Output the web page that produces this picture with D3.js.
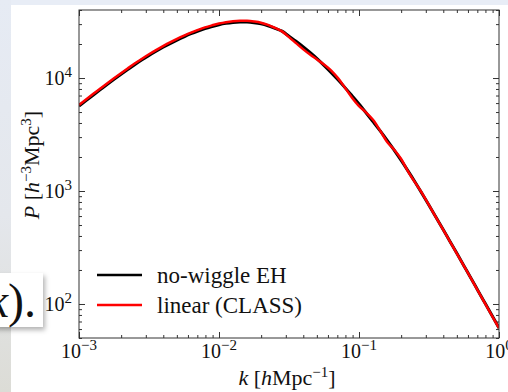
<!DOCTYPE html>
<html>
<head>
<meta charset="utf-8">
<script src="https://cdn.jsdelivr.net/npm/d3@7"></script>
<style>
  body { margin: 0; background: #fff; }
  svg { display: block; }
  text { font-family: "Liberation Serif", "DejaVu Serif", serif; fill: #111; }
</style>
</head>
<body>
<div id="vis"></div>
<script>
const WIDTH = 508;
const HEIGHT = 392;
const PLOT = {left: 79, right: 499, top: 10, bottom: 338};

// log10(k) grid, k in h/Mpc
const logK = [
  -3.00, -2.95, -2.90, -2.85, -2.80, -2.75, -2.70, -2.65, -2.60, -2.55,
  -2.50, -2.45, -2.40, -2.35, -2.30, -2.25, -2.20, -2.15, -2.10, -2.05,
  -2.00, -1.95, -1.90, -1.85, -1.80, -1.75, -1.70, -1.65, -1.60, -1.55,
  -1.50, -1.45, -1.40, -1.35, -1.30, -1.25, -1.20, -1.15, -1.10, -1.05,
  -1.00, -0.95, -0.90, -0.85, -0.80, -0.75, -0.70, -0.65, -0.60, -0.55,
  -0.50, -0.45, -0.40, -0.35, -0.30, -0.25, -0.20, -0.15, -0.10, -0.05, 0.00
];

// log10 P, no-wiggle Eisenstein-Hu
const logPNoWiggle = [
  3.752, 3.800, 3.848, 3.895, 3.942, 3.988, 4.033, 4.077, 4.120, 4.161,
  4.200, 4.237, 4.272, 4.305, 4.336, 4.365, 4.392, 4.416, 4.438, 4.456,
  4.472, 4.484, 4.492, 4.496, 4.496, 4.490, 4.480, 4.463, 4.440, 4.415,
  4.370, 4.325, 4.277, 4.226, 4.172, 4.112, 4.050, 3.984, 3.915, 3.843,
  3.770, 3.693, 3.614, 3.534, 3.451, 3.364, 3.273, 3.178, 3.080, 2.978,
  2.874, 2.768, 2.662, 2.554, 2.446, 2.337, 2.228, 2.118, 2.008, 1.898, 1.788
];

// log10 P, linear (CLASS) with BAO wiggles
const logPLinear = [
  3.762, 3.810, 3.858, 3.905, 3.952, 3.998, 4.043, 4.087, 4.130, 4.171,
  4.210, 4.247, 4.282, 4.315, 4.346, 4.375, 4.402, 4.426, 4.448, 4.466,
  4.482, 4.494, 4.502, 4.506, 4.506, 4.500, 4.490, 4.471, 4.444, 4.413,
  4.362, 4.309, 4.256, 4.208, 4.164, 4.120, 4.068, 3.999, 3.914, 3.826,
  3.752, 3.696, 3.630, 3.536, 3.437, 3.367, 3.285, 3.174, 3.076, 2.982,
  2.874, 2.766, 2.660, 2.552, 2.444, 2.335, 2.226, 2.116, 2.006, 1.896, 1.786
];

const xMajor = [1e-3, 1e-2, 1e-1, 1];
const xExp = ["\u22123", "\u22122", "\u22121", "0"];
const yMajor = [1e2, 1e3, 1e4];
const yExp = ["2", "3", "4"];

const seriesNames = ["no-wiggle EH", "linear (CLASS)"];
const seriesColors = ["#000000", "#ff0000"];

const svg = d3.select("#vis").append("svg")
  .attr("width", WIDTH)
  .attr("height", HEIGHT);

// page around the figure (screenshot look)
const defs = svg.append("defs");
const grad = defs.append("linearGradient").attr("id", "side")
  .attr("x1", 0).attr("y1", 0).attr("x2", 0).attr("y2", 1);
grad.append("stop").attr("offset", "0%").attr("stop-color", "#e6ebf4");
grad.append("stop").attr("offset", "55%").attr("stop-color", "#e4e7ec");
grad.append("stop").attr("offset", "100%").attr("stop-color", "#dcdcd6");
const shadow = defs.append("filter").attr("id", "shadow")
  .attr("x", "-20%").attr("y", "-20%").attr("width", "150%").attr("height", "150%");
shadow.append("feDropShadow").attr("dx", 2).attr("dy", 3)
  .attr("stdDeviation", 2.5).attr("flood-color", "#000").attr("flood-opacity", 0.3);

svg.append("rect").attr("x", 0).attr("y", 0).attr("width", WIDTH).attr("height", 5)
  .attr("fill", "#e8edf6");
svg.append("rect").attr("x", 0).attr("y", 0).attr("width", 11).attr("height", HEIGHT)
  .attr("fill", "url(#side)");

const xScale = d3.scaleLog().domain([1e-3, 1]).range([PLOT.left, PLOT.right]);
const yScale = d3.scaleLog().domain([50, 40000]).range([PLOT.bottom, PLOT.top]);

const xMinor = xScale.ticks().filter(v => !xMajor.includes(v));
const yMinor = yScale.ticks().filter(v => !yMajor.includes(v));

function drawTicks(axisFn, scale, pos, values, size) {
  const g = svg.append("g")
    .attr("transform", pos)
    .call(axisFn(scale).tickValues(values).tickSize(size).tickFormat(""));
  g.select(".domain").remove();
  g.selectAll("line").attr("stroke", "#333").attr("stroke-width", 1);
}

// inward ticks on all four sides
drawTicks(d3.axisBottom, xScale, `translate(0,${PLOT.bottom})`, xMajor, -6);
drawTicks(d3.axisBottom, xScale, `translate(0,${PLOT.bottom})`, xMinor, -3);
drawTicks(d3.axisTop, xScale, `translate(0,${PLOT.top})`, xMajor, -6);
drawTicks(d3.axisTop, xScale, `translate(0,${PLOT.top})`, xMinor, -3);
drawTicks(d3.axisLeft, yScale, `translate(${PLOT.left},0)`, yMajor, -6);
drawTicks(d3.axisLeft, yScale, `translate(${PLOT.left},0)`, yMinor, -3);
drawTicks(d3.axisRight, yScale, `translate(${PLOT.right},0)`, yMajor, -6);
drawTicks(d3.axisRight, yScale, `translate(${PLOT.right},0)`, yMinor, -3);

// curves
const line = d3.line()
  .x(d => xScale(Math.pow(10, d[0])))
  .y(d => yScale(Math.pow(10, d[1])))
  .curve(d3.curveCatmullRom);

const clip = defs.append("clipPath").attr("id", "plotclip");
clip.append("rect").attr("x", PLOT.left).attr("y", PLOT.top)
  .attr("width", PLOT.right - PLOT.left).attr("height", PLOT.bottom - PLOT.top);

const curves = svg.append("g").attr("clip-path", "url(#plotclip)");
curves.append("path")
  .datum(d3.zip(logK, logPNoWiggle))
  .attr("d", line)
  .attr("fill", "none")
  .attr("stroke", seriesColors[0])
  .attr("stroke-width", 3);
curves.append("path")
  .datum(d3.zip(logK, logPLinear))
  .attr("d", line)
  .attr("fill", "none")
  .attr("stroke", seriesColors[1])
  .attr("stroke-width", 2.5);

// frame
svg.append("rect")
  .attr("x", PLOT.left).attr("y", PLOT.top)
  .attr("width", PLOT.right - PLOT.left).attr("height", PLOT.bottom - PLOT.top)
  .attr("fill", "none").attr("stroke", "#333").attr("stroke-width", 1);

// tick labels
const FS = "22px";
const TICK = "20px";
const SUP = "15px";
xMajor.forEach((v, i) => {
  const t = svg.append("text")
    .attr("x", xScale(v)).attr("y", 358)
    .attr("text-anchor", "middle")
    .style("font-size", TICK);
  t.append("tspan").text("10");
  t.append("tspan").attr("dy", -8).style("font-size", SUP).text(xExp[i]);
});
yMajor.forEach((v, i) => {
  const t = svg.append("text")
    .attr("x", 72).attr("y", yScale(v) + 7)
    .attr("text-anchor", "end")
    .style("font-size", TICK);
  t.append("tspan").text("10");
  t.append("tspan").attr("dy", -8).style("font-size", SUP).text(yExp[i]);
});

// axis labels
const xl = svg.append("text")
  .attr("x", 287).attr("y", 385)
  .attr("text-anchor", "middle")
  .style("font-size", FS);
xl.append("tspan").style("font-style", "italic").text("k");
xl.append("tspan").text(" [");
xl.append("tspan").style("font-style", "italic").text("h");
xl.append("tspan").text("Mpc");
xl.append("tspan").attr("dy", -8).style("font-size", SUP).text("\u22121");
xl.append("tspan").attr("dy", 8).text("]");

const yl = svg.append("text")
  .attr("transform", "translate(39,165) rotate(-90)")
  .attr("text-anchor", "middle")
  .style("font-size", FS);
yl.append("tspan").style("font-style", "italic").text("P");
yl.append("tspan").text(" [");
yl.append("tspan").style("font-style", "italic").text("h");
yl.append("tspan").attr("dy", -8).style("font-size", SUP).text("\u22123");
yl.append("tspan").attr("dy", 8).text("Mpc");
yl.append("tspan").attr("dy", -8).style("font-size", SUP).text("3");
yl.append("tspan").attr("dy", 8).text("]");

// legend
seriesNames.forEach((name, i) => {
  const y = 275 + i * 30;
  svg.append("line")
    .attr("x1", 97).attr("x2", 142).attr("y1", y).attr("y2", y)
    .attr("stroke", seriesColors[i]).attr("stroke-width", 2.5);
  svg.append("text")
    .attr("x", 157).attr("y", y + 8)
    .style("font-size", "23px")
    .text(name);
});

// snippet of the slide behind: "k)."
svg.append("rect")
  .attr("x", -6).attr("y", 273).attr("width", 49).attr("height", 54)
  .attr("fill", "#fff").attr("filter", "url(#shadow)");
const snip = svg.append("text")
  .attr("x", 36).attr("y", 317)
  .attr("text-anchor", "end")
  .style("font-size", "48px");
snip.append("tspan").style("font-style", "italic").text("k");
snip.append("tspan").text(").");
</script>
</body>
</html>
